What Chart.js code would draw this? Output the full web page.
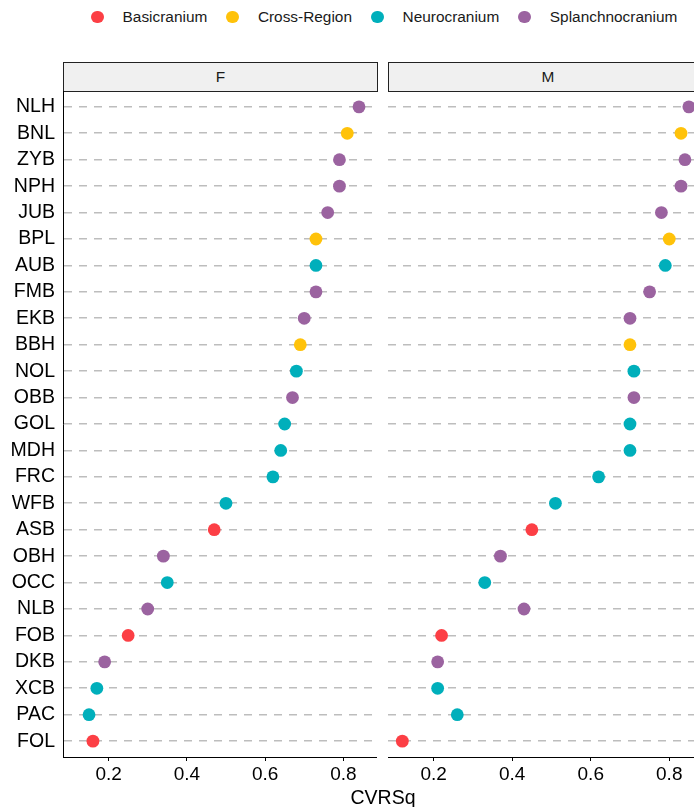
<!DOCTYPE html>
<html>
<head>
<meta charset="utf-8">
<script src="https://cdn.jsdelivr.net/npm/chart.js@4.4.1/dist/chart.umd.min.js"></script>
<style>
  body {
    margin: 0;
    width: 694px;
    height: 807px;
    overflow: hidden;
    background: #fff;
    position: relative;
    font-family: "Liberation Sans", Arial, sans-serif;
    color: #000;
  }
  #legend {
    position: absolute;
    left: 91px;
    top: 8px;
    display: flex;
    align-items: center;
    font-size: 15.4px;
    color: #1a1a1a;
    white-space: nowrap;
  }
  #legend .item { display: flex; align-items: center; margin-right: 19px; }
  #legend .dot { width: 12.6px; height: 12.6px; border-radius: 50%; margin-right: 19px; }
  .strip {
    position: absolute;
    top: 62px;
    height: 30px;
    box-sizing: border-box;
    border: 1px solid #222;
    background: #f0f0f0;
    font-size: 15.4px;
    line-height: 28px;
    text-align: center;
    color: #1a1a1a;
  }
  canvas { position: absolute; top: 91px; }
  #xtitle {
    position: absolute;
    left: 283px;
    width: 200px;
    top: 786px;
    text-align: center;
    font-size: 19.5px;
  }
</style>
</head>
<body>
<div id="legend"></div>
<div class="strip" style="left:63px; width:315px;">F</div>
<div class="strip" style="left:388px; width:320px;">M</div>
<canvas id="panelF" width="377" height="696" style="left:0px;"></canvas>
<canvas id="panelM" width="315" height="696" style="left:388px;"></canvas>
<div id="xtitle">CVRSq</div>
<script>
// measurements, top to bottom
const measures = ['NLH', 'BNL', 'ZYB', 'NPH', 'JUB', 'BPL', 'AUB', 'FMB', 'EKB', 'BBH',
  'NOL', 'OBB', 'GOL', 'MDH', 'FRC', 'WFB', 'ASB', 'OBH', 'OCC', 'NLB',
  'FOB', 'DKB', 'XCB', 'PAC', 'FOL'];

const measureRegion = ['Splanchnocranium', 'Cross-Region', 'Splanchnocranium', 'Splanchnocranium',
  'Splanchnocranium', 'Cross-Region', 'Neurocranium', 'Splanchnocranium', 'Splanchnocranium',
  'Cross-Region', 'Neurocranium', 'Splanchnocranium', 'Neurocranium', 'Neurocranium',
  'Neurocranium', 'Neurocranium', 'Basicranium', 'Splanchnocranium', 'Neurocranium',
  'Splanchnocranium', 'Basicranium', 'Splanchnocranium', 'Neurocranium', 'Neurocranium',
  'Basicranium'];

const cvrsqF = [0.84, 0.81, 0.79, 0.79, 0.76, 0.73, 0.73, 0.73, 0.70, 0.69,
  0.68, 0.67, 0.65, 0.64, 0.62, 0.50, 0.47, 0.34, 0.35, 0.30,
  0.25, 0.19, 0.17, 0.15, 0.16];

const cvrsqM = [0.85, 0.83, 0.84, 0.83, 0.78, 0.80, 0.79, 0.75, 0.70, 0.70,
  0.71, 0.71, 0.70, 0.70, 0.62, 0.51, 0.45, 0.37, 0.33, 0.43,
  0.22, 0.21, 0.21, 0.26, 0.12];

const regionNames = ['Basicranium', 'Cross-Region', 'Neurocranium', 'Splanchnocranium'];
const regionColors = ['#FC3F45', '#FFC20A', '#00AFBB', '#9B63A0'];

const xTicks = [0.2, 0.4, 0.6, 0.8];
const xMin = 0.0835;
const xMax = 0.886;

const fontFamily = '"Liberation Sans", Arial, sans-serif';

// legend
const legend = document.getElementById('legend');
regionNames.forEach((name, k) => {
  const item = document.createElement('div');
  item.className = 'item';
  const dot = document.createElement('span');
  dot.className = 'dot';
  dot.style.background = regionColors[k];
  const label = document.createElement('span');
  label.textContent = name;
  item.appendChild(dot);
  item.appendChild(label);
  legend.appendChild(item);
});

function makePanel(canvasId, values, showY) {
  const datasets = regionNames.map((name, k) => ({
    label: name,
    data: measures
      .map((m, i) => ({ x: values[i], y: i, region: measureRegion[i] }))
      .filter(p => p.region === name),
    backgroundColor: regionColors[k],
    borderWidth: 0,
    pointRadius: 6.4,
    pointHoverRadius: 6.4
  }));

  return new Chart(document.getElementById(canvasId), {
    type: 'scatter',
    data: { datasets },
    options: {
      responsive: false,
      animation: false,
      devicePixelRatio: 1,
      layout: { padding: 0, autoPadding: false },
      clip: false,
      plugins: {
        legend: { display: false },
        tooltip: { enabled: false }
      },
      scales: {
        x: {
          type: 'linear',
          min: xMin,
          max: xMax,
          afterBuildTicks: scale => { scale.ticks = xTicks.map(v => ({ value: v })); },
          afterFit: scale => {
            scale.height = 30;
            scale.paddingLeft = 0;
            scale.paddingRight = 0;
          },
          grid: {
            drawOnChartArea: false,
            drawTicks: true,
            tickLength: 4,
            color: '#000',
            lineWidth: 1
          },
          border: { display: true, color: '#000', width: 1 },
          ticks: {
            autoSkip: false,
            maxRotation: 0,
            padding: 2,
            color: '#000',
            font: { family: fontFamily, size: 19 },
            callback: v => v.toFixed(1)
          }
        },
        y: {
          type: 'linear',
          reverse: true,
          min: -0.6,
          max: measures.length - 0.4,
          afterBuildTicks: scale => { scale.ticks = measures.map((m, i) => ({ value: i })); },
          afterFit: scale => {
            scale.width = showY ? 63 : 0;
            scale.paddingTop = 0;
            scale.paddingBottom = 0;
          },
          grid: {
            color: '#BDBDBD',
            lineWidth: 1.6,
            drawTicks: false
          },
          border: { display: showY, color: '#000', width: 1, dash: [8, 7] },
          ticks: {
            display: showY,
            autoSkip: false,
            padding: 8,
            color: '#000',
            font: { family: fontFamily, size: 19.5 },
            callback: v => measures[Math.round(v)]
          }
        }
      }
    }
  });
}

makePanel('panelF', cvrsqF, true);
makePanel('panelM', cvrsqM, false);
</script>
</body>
</html>
